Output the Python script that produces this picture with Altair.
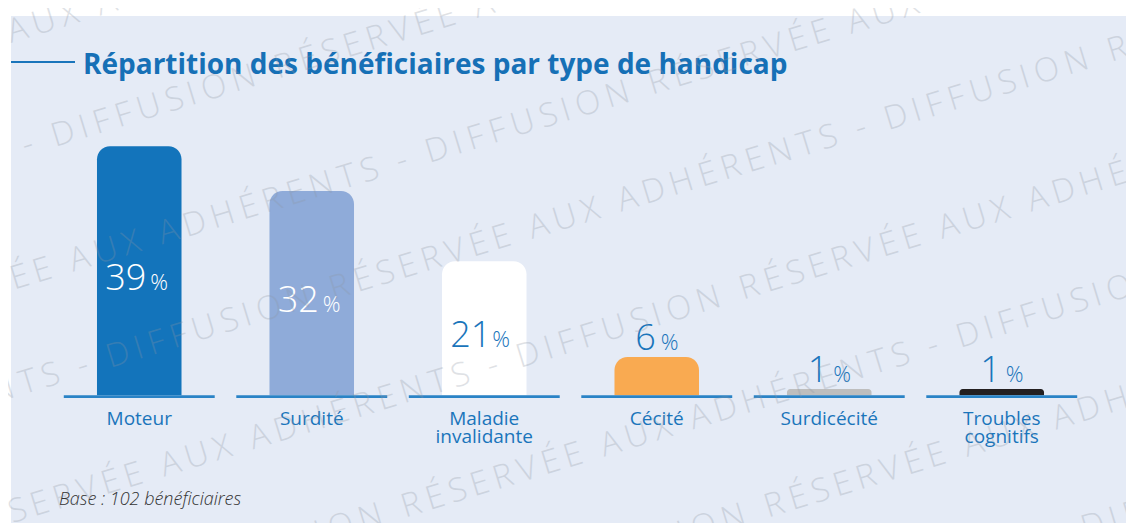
import math
import altair as alt
import pandas as pd

# ---------------- data ----------------
categories = ["Moteur", "Surdité", "Maladie\ninvalidante", "Cécité", "Surdicécité", "Troubles\ncognitifs"]
values = [39, 32, 21, 6, 1, 1]
bar_colors = ["#1374BB", "#8FABD9", "#FFFFFF", "#F9AA51", "#BEBEBE", "#231F20"]

title_text = "Répartition des bénéficiaires par type de handicap"
footnote_text = "Base : 102 bénéficiaires"
watermark_text = "DIFFUSION RÉSERVÉE AUX ADHÉRENTS - "

# ---------------- style ----------------
BLUE = "#1A75BB"
TITLE_BLUE = "#1670B6"
PANEL = "#E5EBF6"
W, H = 1115, 507
FONT = "Open Sans"

df = pd.DataFrame({"cat": categories, "value": values})

x_scale = alt.Scale(domain=categories, range=[42, 1077], paddingInner=0, paddingOuter=0)
x_enc = alt.X("cat:N", sort=categories, scale=x_scale, axis=None)
y_scale = alt.Scale(domain=[-20, 59.4], nice=False, zero=False)

base = alt.Chart(df).encode(x=x_enc)

bars = base.mark_bar(width={"band": 0.49}, cornerRadiusTopLeft=13, cornerRadiusTopRight=13).encode(
    y=alt.Y("value:Q", scale=y_scale, axis=None),
    y2=alt.Y2Datum(0),
    color=alt.Color("cat:N", scale=alt.Scale(domain=categories, range=bar_colors), legend=None),
)

baselines = base.mark_bar(width={"band": 0.875}, color="#2A83C6").encode(
    y=alt.YDatum(0, scale=y_scale, axis=None),
    y2=alt.Y2Datum(-0.42),
)

lab = base.transform_calculate(ypos="datum.value >= 15 ? datum.value / 2 : datum.value")
inside_white = lab.transform_filter("datum.value >= 25")
inside_blue = lab.transform_filter("datum.value >= 15 && datum.value < 25")
outside = lab.transform_filter("datum.value < 15")

ypos = alt.Y("ypos:Q", scale=y_scale, axis=None)


def num_pct(chart, color, dxn, dxp, dy):
    n = chart.mark_text(align="right", baseline="alphabetic", dx=dxn, dy=dy,
                        font=FONT, fontWeight=300, fontSize=36, color=color).encode(
        y=ypos, text=alt.Text("value:Q", format="d"))
    p = chart.mark_text(align="left", baseline="alphabetic", dx=dxp, dy=dy,
                        font=FONT, fontWeight=300, fontSize=22, color=color).encode(
        y=ypos, text=alt.value("%"))
    return [n, p]


label_layers = (num_pct(inside_white, "white", 7, 11, 19)
                + num_pct(inside_blue, BLUE, 7, 8, 19)
                + num_pct(outside, BLUE, -1, 4, -7))

cat_labels = base.mark_text(baseline="alphabetic", dy=30, lineBreak="\n", lineHeight=18,
                            font=FONT, fontSize=19, color=BLUE).encode(
    y=alt.YDatum(0, scale=y_scale, axis=None), text="cat:N")

title_df = pd.DataFrame({"t": [title_text]})
title_rule = alt.Chart(title_df).mark_rule(color=BLUE, strokeWidth=2).encode(
    x=alt.value(0), x2=alt.value(64), y=alt.value(46))
title = alt.Chart(title_df).mark_text(align="left", baseline="alphabetic", font=FONT,
                                      fontWeight="bold", fontSize=28, color=TITLE_BLUE).encode(
    x=alt.value(72), y=alt.value(58), text="t:N")

foot = alt.Chart(pd.DataFrame({"t": [footnote_text]})).mark_text(
    align="left", baseline="alphabetic", font=FONT, fontStyle="italic", fontWeight=300,
    fontSize=18, color="#333333").encode(x=alt.value(48), y=alt.value(489), text="t:N")

# ---------------- watermark (decoration, letter-spaced) ----------------
ang = 17.0
ca, sa = math.cos(math.radians(ang)), math.sin(math.radians(ang))
wm_size = 33
tracking = 5.8
em = {"D": .70, "I": .27, "F": .52, "U": .72, "S": .52, "O": .78, "N": .75, "R": .60,
      "É": .54, "E": .54, "V": .58, "A": .60, "X": .54, "H": .74, "T": .52, " ": .26, "-": .32}
offsets = []
pos = 0.0
for ch in watermark_text:
    offsets.append((ch, pos))
    pos += em[ch] * wm_size + tracking
period = pos
# start point of a "D" on each diagonal line (picture pixels)
anchors = [(-411, 172), (55, 147), (429, 163), (110, 368), (520, 368),
           (960, 348), (545, 586), (1085, 539)]
wm_rows = []
for ax, ay in anchors:
    for k in range(-3, 4):
        for ch, off in offsets:
            if ch == " ":
                continue
            along = k * period + off
            px = ax + along * ca - 11
            py = ay - along * sa - 16
            if -40 < px < W + 10 and -30 < py < H + 60:
                wm_rows.append({"wx": px, "wy": py, "t": ch})
wm = alt.Chart(pd.DataFrame(wm_rows)).mark_text(
    align="left", baseline="alphabetic", angle=360 - ang, font=FONT, fontWeight=300,
    fontSize=wm_size, color="#8E96A3", opacity=0.28).encode(
    x=alt.X("wx:Q", scale=alt.Scale(domain=[0, W], range=[0, W], nice=False, zero=False), axis=None),
    y=alt.Y("wy:Q", scale=alt.Scale(domain=[0, H], range=[0, H], nice=False, zero=False), axis=None),
    text="t:N")

chart = alt.layer(
    bars, baselines, *label_layers, cat_labels,
    title_rule, title, foot, wm
).resolve_scale(x="independent", y="independent").properties(
    width=W, height=H,
    padding={"left": 3, "top": 8, "right": 0, "bottom": 0},
    autosize=alt.AutoSizeParams(type="none"),
    background="white",
).configure_view(stroke=None, fill=PANEL)

chart.save("out.html", embed_options={"renderer": "svg", "actions": False})
